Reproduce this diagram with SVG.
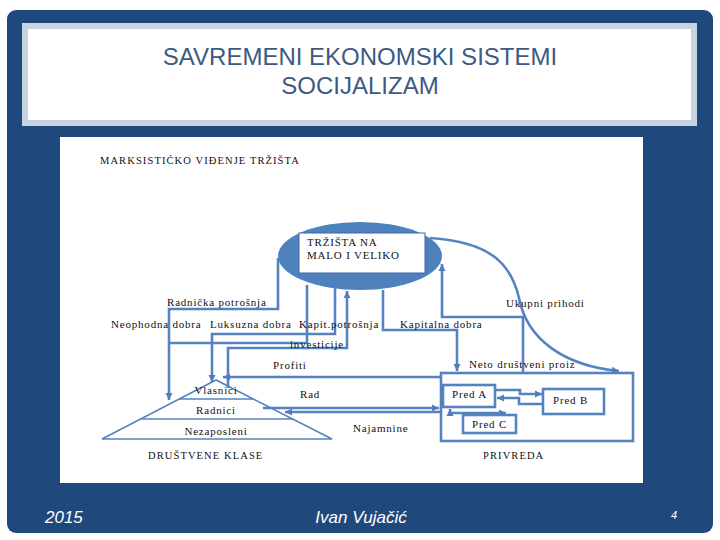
<svg xmlns="http://www.w3.org/2000/svg" width="720" height="540" viewBox="0 0 720 540">
<style>
.lbl{font-family:"Liberation Serif","Times New Roman",serif;font-size:11px;letter-spacing:0.8px;fill:#111}
.cap{font-family:"Liberation Serif","Times New Roman",serif;font-size:10.5px;letter-spacing:1.1px;fill:#111}
.con{fill:none;stroke:#5583bf;stroke-width:2.6}
.box{fill:#fff;stroke:#5583bf;stroke-width:2.6}
.title{font-family:"Liberation Sans",Arial,sans-serif;font-size:24px;fill:#3d5a80;text-anchor:middle}
.foot{font-family:"Liberation Sans",Arial,sans-serif;font-style:italic;fill:#fff}
</style>
<defs>
<marker id="ah" markerUnits="userSpaceOnUse" markerWidth="8" markerHeight="8" refX="7" refY="4" orient="auto-start-reverse">
<path d="M0,0.5 L7,4 L0,7.5 z" fill="#4f7fbb"/>
</marker>
</defs>
<rect x="0" y="0" width="720" height="540" fill="#fff"/>
<rect x="7" y="10" width="706" height="523" rx="9" fill="#1f497d"/>
<g id="titlebox">
<rect x="25" y="26" width="669" height="97" fill="#fff" stroke="#c9d4e2" stroke-width="6"/>
<text class="title" x="360" y="65">SAVREMENI EKONOMSKI SISTEMI</text>
<text class="title" x="360" y="94">SOCIJALIZAM</text>
</g>
<rect x="60" y="137" width="583" height="346" fill="#fff"/>
<text class="cap" x="100" y="164">MARKSISTIĆKO VIĐENJE TRŽIŠTA</text>
<g id="connectors">
<path class="con" d="M278,258 V309 H169 V400" marker-end="url(#ah)"/>
<path class="con" d="M307,285 V343 H169"/>
<path class="con" d="M335,288 V334 H212 V382" marker-end="url(#ah)"/>
<path class="con" d="M228,388 V348 H347 V291" marker-end="url(#ah)"/>
<path class="con" d="M440,377 H223" marker-end="url(#ah)"/>
<path class="con" d="M383,290 V330 H457 V371" marker-end="url(#ah)"/>
<path class="con" d="M523,373 V317 H442 V264" marker-end="url(#ah)"/>
<path class="con" d="M430,238 C495,242 512,268 519,298 C527,340 565,366 619,371" marker-end="url(#ah)"/>
<path class="con" d="M263,408 H439" marker-end="url(#ah)"/>
<path class="con" d="M440,412 H285" marker-end="url(#ah)"/>
<path class="con" d="M495,390 H520 V394 H542" marker-end="url(#ah)" stroke-width="2"/>
<path class="con" d="M543,404 H519 V398 H497" marker-end="url(#ah)" stroke-width="2"/>
<path class="con" d="M450,409 V413 H506" marker-start="url(#ah)" marker-end="url(#ah)" stroke-width="2"/>
</g>
<g id="market">
<ellipse cx="360" cy="256" rx="82" ry="34" fill="#4f81bd"/>
<rect x="299" y="233" width="126" height="40" fill="#fff" stroke="#3d6aa3" stroke-width="1"/>
<text class="lbl" x="307" y="246" font-size="10.5">TRŽIŠTA NA</text>
<text class="lbl" x="307" y="259" font-size="10.5">MALO I VELIKO</text>
</g>
<g id="classes">
<polygon points="216,380 102,439 332,439" fill="none" stroke="#5583bf" stroke-width="1.6"/>
<line x1="179" y1="399" x2="253" y2="399" stroke="#5583bf" stroke-width="1.6"/>
<line x1="141" y1="419" x2="293" y2="419" stroke="#5583bf" stroke-width="1.6"/>
<text class="lbl" x="216" y="394" text-anchor="middle">Vlasnici</text>
<text class="lbl" x="216" y="414" text-anchor="middle">Radnici</text>
<text class="lbl" x="216" y="435" text-anchor="middle">Nezaposleni</text>
<text class="cap" x="148" y="459">DRUŠTVENE KLASE</text>
</g>
<g id="privreda">
<rect x="441" y="373" width="192" height="68" fill="none" stroke="#5583bf" stroke-width="2.6"/>
<text class="cap" x="483" y="459">PRIVREDA</text>
</g>
<g id="predA">
<rect class="box" x="443" y="385" width="52" height="22"/>
<text class="lbl" x="452" y="398">Pred A</text>
</g>
<g id="predB">
<rect class="box" x="543" y="389" width="61" height="25"/>
<text class="lbl" x="553" y="404">Pred B</text>
</g>
<g id="predC">
<rect class="box" x="463" y="415" width="53" height="18" stroke-width="3.2"/>
<text class="lbl" x="472" y="428">Pred C</text>
</g>
<g id="labels">
<text class="lbl" x="167" y="306">Radnička potrošnja</text>
<text class="lbl" x="111" y="328">Neophodna dobra</text>
<text class="lbl" x="210" y="328">Luksuzna dobra</text>
<text class="lbl" x="299" y="328">Kapit.potrošnja</text>
<text class="lbl" x="400" y="328">Kapitalna dobra</text>
<text class="lbl" x="290" y="348">investicije</text>
<text class="lbl" x="273" y="369">Profiti</text>
<text class="lbl" x="300" y="398">Rad</text>
<text class="lbl" x="353" y="432">Najamnine</text>
<text class="lbl" x="506" y="307">Ukupni prihodi</text>
<text class="lbl" x="469" y="368">Neto društveni proiz</text>
</g>
<g id="footer">
<text class="foot" x="45" y="523" font-size="17">2015</text>
<text class="foot" x="361" y="523" font-size="17" text-anchor="middle">Ivan Vujačić</text>
<text class="foot" x="671" y="519" font-size="11">4</text>
</g>
</svg>
